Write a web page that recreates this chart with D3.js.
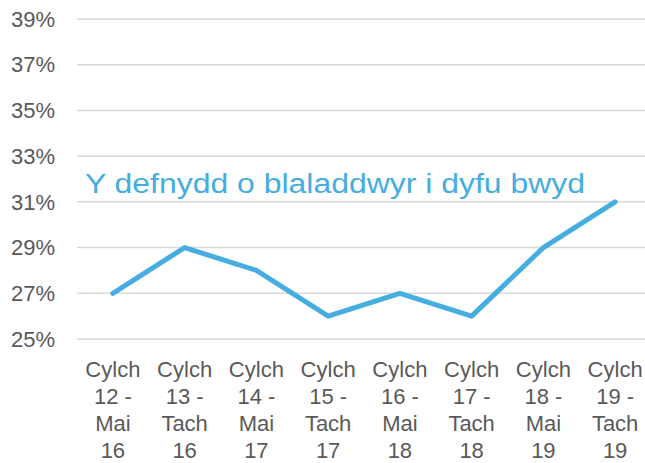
<!DOCTYPE html>
<html lang="cy">
<head>
  <meta charset="UTF-8">
  <title>Y defnydd o blaladdwyr i dyfu bwyd</title>
  <script src="https://d3js.org/d3.v7.min.js"></script>
  <style>
    body { margin: 0; background: #fff; }
    text { font-family: "Liberation Sans", Arial, sans-serif; }
  </style>
</head>
<body>
  <svg id="chart"></svg>
  <script>
    // data
    const categories = [
      ["Cylch", "12 -", "Mai", "16"],
      ["Cylch", "13 -", "Tach", "16"],
      ["Cylch", "14 -", "Mai", "17"],
      ["Cylch", "15 -", "Tach", "17"],
      ["Cylch", "16 -", "Mai", "18"],
      ["Cylch", "17 -", "Tach", "18"],
      ["Cylch", "18 -", "Mai", "19"],
      ["Cylch", "19 -", "Tach", "19"]
    ];
    const values = [27, 29, 28, 26, 27, 26, 29, 31];
    const yTicks = [25, 27, 29, 31, 33, 35, 37, 39];
    const seriesLabel = "Y defnydd o blaladdwyr i dyfu bwyd";

    const width = 645, height = 463;
    const margin = { left: 77, right: -6, top: 19, bottom: 124 };
    const blue = "#46ade0";

    const svg = d3.select('#chart')
      .attr('width', width)
      .attr('height', height);

    const x = d3.scaleBand()
      .domain(d3.range(categories.length))
      .range([margin.left, width - margin.right]);

    const y = d3.scaleLinear()
      .domain([25, 39])
      .range([height - margin.bottom, margin.top]);

    // gridlines
    svg.append('g')
      .selectAll('line')
      .data(yTicks)
      .enter()
      .append('line')
      .attr('x1', margin.left)
      .attr('x2', width)
      .attr('y1', d => y(d))
      .attr('y2', d => y(d))
      .attr('stroke', '#d9d9d9')
      .attr('stroke-width', 1.5);

    // y tick labels
    svg.append('g')
      .selectAll('text')
      .data(yTicks)
      .enter()
      .append('text')
      .attr('x', 55)
      .attr('y', d => y(d))
      .attr('dy', '0.35em')
      .attr('text-anchor', 'end')
      .attr('font-size', '22px')
      .attr('fill', '#595959')
      .text(d => d + '%');

    // x category labels, four lines each
    const xLab = svg.append('g')
      .selectAll('text')
      .data(categories)
      .enter()
      .append('text')
      .attr('text-anchor', 'middle')
      .attr('font-size', '22px')
      .attr('fill', '#595959');

    xLab.selectAll('tspan')
      .data((d, i) => d.map(s => ({ s, i })))
      .enter()
      .append('tspan')
      .attr('x', d => x(d.i) + x.bandwidth() / 2)
      .attr('y', (d, j) => 377 + j * 27)
      .text(d => d.s);

    // line
    const line = d3.line()
      .x((d, i) => x(i) + x.bandwidth() / 2)
      .y(d => y(d));

    svg.append('path')
      .datum(values)
      .attr('fill', 'none')
      .attr('stroke', blue)
      .attr('stroke-width', 5)
      .attr('stroke-linejoin', 'round')
      .attr('stroke-linecap', 'round')
      .attr('d', line);

    // series label
    svg.append('text')
      .attr('x', 85)
      .attr('y', 193)
      .attr('font-size', '27px')
      .attr('fill', blue)
      .attr('textLength', 500)
      .attr('lengthAdjust', 'spacingAndGlyphs')
      .text(seriesLabel);
  </script>
</body>
</html>
